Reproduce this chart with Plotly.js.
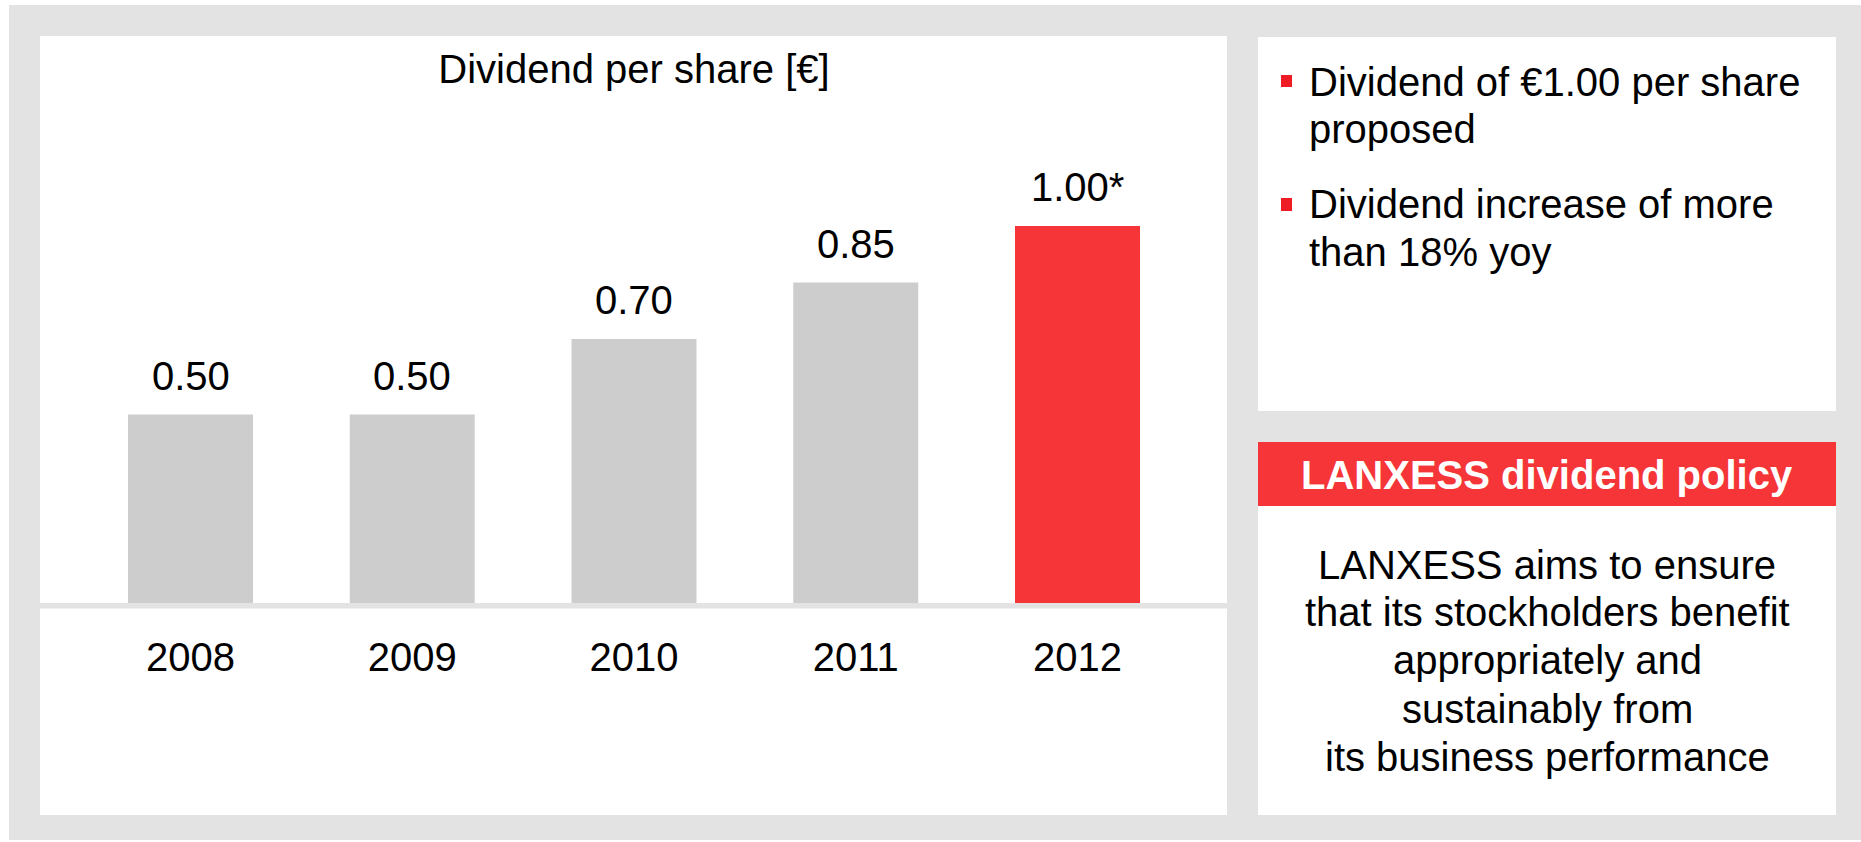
<!DOCTYPE html>
<html>
<head>
<meta charset="utf-8">
<script src="https://cdn.plot.ly/plotly-3.0.1.min.js"></script>
<style>html,body{margin:0;padding:0;background:#fff;overflow:hidden}#chart{width:1861px;height:842px}</style>
</head>
<body>
<div id="chart"></div>
<script>
// ---- data ----
const years = ['2008', '2009', '2010', '2011', '2012'];
const dividends = [0.50, 0.50, 0.70, 0.85, 1.00];
const valueLabels = ['0.50', '0.50', '0.70', '0.85', '1.00*'];
const chartTitle = 'Dividend per share [€]';
const bulletLines = [
  ['Dividend of €1.00 per share', 'proposed'],
  ['Dividend increase of more', 'than 18% yoy']
];
const policyHeader = 'LANXESS dividend policy';
const policyLines = ['LANXESS aims to ensure', 'that its stockholders benefit', 'appropriately and', 'sustainably from', 'its business performance'];

// ---- styling ----
const W = 1861, H = 842;
const FONT = 'Liberation Sans, Arial, Helvetica, sans-serif';
const GRAY_FRAME = '#e3e3e3';
const BAR_GRAY = '#cdcdcd';
const RED = '#f53537';
const BULLET_RED = '#ee1c25';
const fx = x => x / W;
const fy = y => 1 - y / H;

const barColors = years.map((y, i) => i === years.length - 1 ? RED : BAR_GRAY);

const rect = (x0, y0, x1, y1, color) => ({
  type: 'rect', xref: 'paper', yref: 'paper', layer: 'below',
  x0: fx(x0), x1: fx(x1), y0: fy(y1), y1: fy(y0),
  fillcolor: color, line: {width: 0}
});

const shapes = [
  rect(9, 5, W, 840, GRAY_FRAME),
  rect(40, 36, 1227, 815, '#ffffff'),
  rect(1258, 37, 1836, 411, '#ffffff'),
  rect(1258, 442, 1836, 506, RED),
  rect(1258, 506, 1836, 815, '#ffffff'),
  rect(40, 603, 1227, 608.5, GRAY_FRAME),
  rect(1281, 75, 1292, 87, BULLET_RED),
  rect(1281, 198, 1292, 211, BULLET_RED)
];

const annotations = [];
// value labels above bars (data coordinates; x = category index)
years.forEach((yr, i) => {
  annotations.push({
    x: i, y: dividends[i], xref: 'x', yref: 'y',
    text: valueLabels[i], showarrow: false,
    xanchor: 'center', yanchor: 'bottom', yshift: 15,
    font: {family: FONT, size: 40, color: '#000'}
  });
});
// bullet text lines
const ASC = 13.9; // baseline -> middle of text box offset
const bulletBaselines = [[96, 143], [218, 266]];
bulletLines.forEach((lines, b) => {
  lines.forEach((t, j) => {
    annotations.push({
      xref: 'paper', yref: 'paper', x: fx(1307), y: fy(bulletBaselines[b][j] - ASC),
      xanchor: 'left', yanchor: 'middle', showarrow: false, text: t,
      font: {family: FONT, size: 40, color: '#000'}
    });
  });
});
// header
annotations.push({
  xref: 'paper', yref: 'paper', x: fx(1547), y: fy(489 - ASC),
  xanchor: 'center', yanchor: 'middle', showarrow: false,
  text: '<b>' + policyHeader + '</b>',
  font: {family: FONT, size: 40, color: '#ffffff'}
});
// policy lines
const policyBaselines = [579, 626, 674, 723, 771];
policyLines.forEach((t, j) => {
  annotations.push({
    xref: 'paper', yref: 'paper', x: fx(1547), y: fy(policyBaselines[j] - ASC),
    xanchor: 'center', yanchor: 'middle', showarrow: false, text: t,
    font: {family: FONT, size: 40, color: '#000'}
  });
});

const PX_PER_UNIT = 377;
const BASE_Y = 603;
const data = [{
  type: 'bar', x: years, y: dividends,
  marker: {color: barColors, line: {width: 0}},
  hoverinfo: 'x+y'
}];

const layout = {
  width: W, height: H,
  margin: {l: 0, r: 0, t: 0, b: 0, pad: 0},
  paper_bgcolor: '#ffffff', plot_bgcolor: 'rgba(0,0,0,0)',
  font: {family: FONT, color: '#000'},
  showlegend: false,
  bargap: 1 - 125 / 221.75,
  title: {
    text: chartTitle, xref: 'paper', yref: 'paper',
    x: fx(634), xanchor: 'center', y: fy(83 - ASC), yanchor: 'middle',
    font: {family: FONT, size: 40, color: '#000'}
  },
  xaxis: {
    type: 'category',
    domain: [fx(190.5 - 0.5 * 221.75), fx(190.5 + 4.5 * 221.75)],
    range: [-0.5, 4.5], showgrid: false, zeroline: false, showline: false,
    ticks: '', tickfont: {family: FONT, size: 40, color: '#000'},
    ticklabelstandoff: 27, fixedrange: true
  },
  yaxis: {
    domain: [fy(BASE_Y), fy(BASE_Y - 1.2 * PX_PER_UNIT)], range: [0, 1.2],
    visible: false, fixedrange: true
  },
  shapes: shapes,
  annotations: annotations
};

Plotly.newPlot('chart', data, layout, {displayModeBar: false, staticPlot: true});
</script>
</body>
</html>
